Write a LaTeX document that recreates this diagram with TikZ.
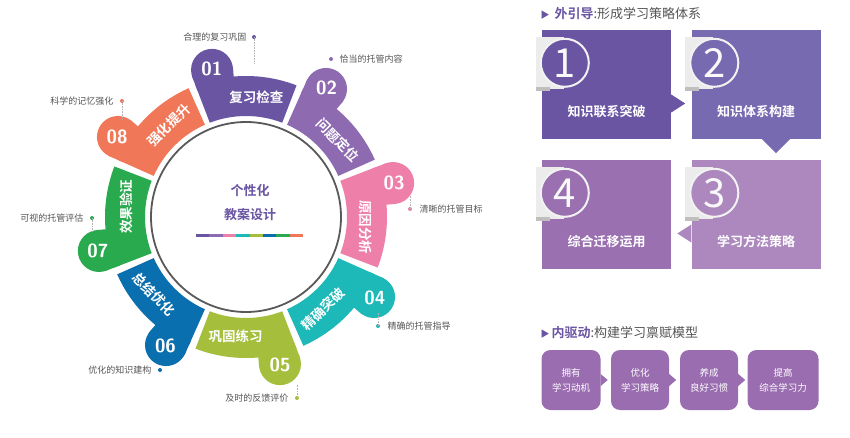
\documentclass[tikz,border=0pt]{standalone}
\usepackage{fontspec}
\setmainfont{Noto Sans CJK SC}
\newfontfamily\cjkb{Noto Sans CJK SC Bold}
\usetikzlibrary{calc}
\definecolor{cA}{HTML}{6A55A3}\definecolor{cB}{HTML}{8E6BB0}\definecolor{cC}{HTML}{EE7FA8}
\definecolor{cD}{HTML}{1DB8B8}\definecolor{cE}{HTML}{A5BE3C}\definecolor{cF}{HTML}{0A6FAE}
\definecolor{cG}{HTML}{2AAA4E}\definecolor{cH}{HTML}{F07858}
\definecolor{bA}{HTML}{6A55A3}\definecolor{bB}{HTML}{776AB0}\definecolor{bC}{HTML}{AD88BE}\definecolor{bD}{HTML}{9A70B0}
\definecolor{bE}{HTML}{9A6CB0}\definecolor{gt}{HTML}{555555}
\tikzset{
 seglab/.style={text=white,font=\cjkb\fontsize{13.5}{13.5}\selectfont},
 numlab/.style={text=white,font=\sffamily\bfseries\fontsize{19}{19}\selectfont},
 outlab/.style={text=gt,font=\fontsize{9}{9}\selectfont},
 leader/.style={densely dotted,gray!60,line width=0.6pt},
 bigbox/.style={minimum width=129pt,minimum height=109pt,inner sep=0pt},
 boxtxt/.style={text=white,font=\cjkb\fontsize{13}{13}\selectfont},
 smallbox/.style={rounded corners=9pt,fill=bE,text=white,minimum height=60pt,align=center,inner sep=2pt,font=\fontsize{9.5}{15}\selectfont},
 hdr/.style={anchor=west,font=\fontsize{13}{13}\selectfont,text=gt}
}
\begin{document}
\begin{tikzpicture}[x=1pt,y=1pt]
\useasboundingbox (0,0) rectangle (850,437);
\fill[white] (0,0) rectangle (850,437);
\coordinate (C) at (246,220);
\foreach \a/\c/\n/\t/\r in {90/cA/01/复习检查/0,45/cB/02/问题定位/-45,0/cC/03/原因分析/-90,-45/cD/04/精确突破/45,-90/cE/05/巩固练习/0,-135/cF/06/总结优化/-45,180/cG/07/效果验证/90,135/cH/08/强化提升/45}{
 \fill[\c] ([shift={(C)}]\a-21:101pt) -- ([shift={(C)}]\a-21:141pt) arc[start angle=\a-21,end angle=\a+21,radius=141pt] -- ([shift={(C)}]\a+21:101pt) arc[start angle=\a+21,end angle=\a-21,radius=101pt] -- cycle;
 \fill[\c] ([shift={(C)}]\a+13:151pt) circle[radius=21pt];
 \fill[\c] ([shift={(C)}]\a+5:135pt) -- ([shift={(C)}]\a+5:151pt) arc[start angle=\a+5,end angle=\a+21,radius=151pt] -- ([shift={(C)}]\a+21:135pt) -- cycle;
 \node[numlab] (n\n) at ([shift={(C)}]\a+13:152pt) {\n};
 \node[seglab,rotate=\r] (s\n) at ([shift={(C)}]\a-5:120pt) {\t};
}
\draw[gray!70!black,line width=1.8pt] (C) circle[radius=95pt];
\node[text=cA,font=\cjkb\fontsize{13}{13}\selectfont] (ct1) at (250,246) {个性化};
\node[text=cA,font=\cjkb\fontsize{13}{13}\selectfont] (ct2) at (250,222) {教案设计};
\foreach \c [count=\i] in {cA,cB,cC,cD,cE,cF,cG,cH}
 \fill[\c] (196+13.4*\i-13.4,200) rectangle (196+13.4*\i,203.5);
% outer labels
\node[outlab,anchor=east] (o1) at (250,400) {合理的复习巩固};
\fill[cA] (254,400) circle[radius=2pt]; \coordinate (d1) at (254,400);
\draw[leader] (d1) -- ++(0,-26);
\fill[cB] (331,378) circle[radius=2pt]; \coordinate (d2) at (331,378);
\node[outlab,anchor=west] (o2) at (336,378) {恰当的托管内容};
\fill[cC] (410,228) circle[radius=2pt]; \coordinate (d3) at (410,228);
\node[outlab,anchor=west] (o3) at (416,228) {清晰的托管目标};
\draw[leader] (d3) -- ++(0,14);
\fill[cD] (378,111) circle[radius=2pt]; \coordinate (d4) at (378,111);
\node[outlab,anchor=west] (o4) at (384,111) {精确的托管指导};
\draw[leader] (d4) -- ++(0,14);
\fill[cE] (297,39) circle[radius=2pt]; \coordinate (d5) at (297,39);
\node[outlab,anchor=east] (o5) at (292,39) {及时的反馈评价};
\draw[leader] (d5) -- ++(0,14);
\fill[cF] (160,67) circle[radius=2pt]; \coordinate (d6) at (160,67);
\node[outlab,anchor=east] (o6) at (155,67) {优化的知识建构};
\fill[cG] (92,219) circle[radius=2pt]; \coordinate (d7) at (92,219);
\node[outlab,anchor=east] (o7) at (87,219) {可视的托管评估};
\draw[leader] (d7) -- ++(0,-14);
\fill[cH] (122,336) circle[radius=2pt]; \coordinate (d8) at (122,336);
\node[outlab,anchor=east] (o8) at (117,336) {科学的记忆强化};
\draw[leader] (d8) -- ++(0,-18);
% right side
\node[hdr] (h1) at (537,423) {{\color{cA}\fontsize{9}{9}\selectfont ▶}\hspace{5pt}{\cjkb\color{cA}外引导}:形成学习策略体系};
\node[bigbox,fill=bA] (b1) at (606.5,352.5) {};
\node[bigbox,fill=bB] (b2) at (756,352.5) {};
\node[bigbox,fill=bD] (b4) at (606.5,222.5) {};
\node[bigbox,fill=bC] (b3) at (756,222.5) {};
\fill[bA] ($(b1.east)+(0,-10)$) -- ++(0,-18) -- ++(14,9) -- cycle;
\fill[bB] ($(b2.south)+(6,0)$) -- ++(28,0) -- ++(-14,-14) -- cycle;
\fill[bC] ($(b3.west)+(0,-10)$) -- ++(0,-18) -- ++(-14,9) -- cycle;
\foreach \b/\k/\c in {b1/1/bA,b2/2/bB,b4/4/bD,b3/3/bC}{
 \fill[gray!15] ($(\b.north west)+(-6,-7)$) rectangle ($(\b.north west)+(22,-59)$);
 \fill[gray!50] ($(\b.north west)+(-6,-57)$) rectangle ($(\b.north west)+(8,-61)$);
 \fill[\c] ($(\b.north west)+(23,-33)$) circle[radius=24pt];
 \draw[white!90!gray,line width=2pt] ($(\b.north west)+(23,-33)$) circle[radius=24pt];
 \node[text=white!95!gray,font=\fontsize{40}{40}\selectfont] at ($(\b.north west)+(23,-33)$) {\k};
}
\node[boxtxt] (t1) at ($(b1.north)+(0,-82)$) {知识联系突破};
\node[boxtxt] (t2) at ($(b2.north)+(0,-82)$) {知识体系构建};
\node[boxtxt] (t4) at ($(b4.north)+(0,-82)$) {综合迁移运用};
\node[boxtxt] (t3) at ($(b3.north)+(0,-82)$) {学习方法策略};
\node[hdr] (h2) at (537,104) {{\color{cA}\fontsize{9}{9}\selectfont ▶}\hspace{2pt}{\cjkb\color{cA}内驱动}:构建学习禀赋模型};
\node[smallbox,minimum width=59pt] (k1) at (571,57) {拥有\\学习动机};
\node[smallbox,minimum width=58pt] (k2) at (640,57) {优化\\学习策略};
\node[smallbox,minimum width=58pt] (k3) at (709,57) {养成\\良好习惯};
\node[smallbox,minimum width=71pt] (k4) at (783,57) {提高\\综合学习力};
\foreach \k in {k1,k2,k3}
 \fill[bE] ($(\k.east)+(0,6)$) -- ++(7,-6) -- ++(-7,-6) -- cycle;
\end{tikzpicture}
\end{document}
